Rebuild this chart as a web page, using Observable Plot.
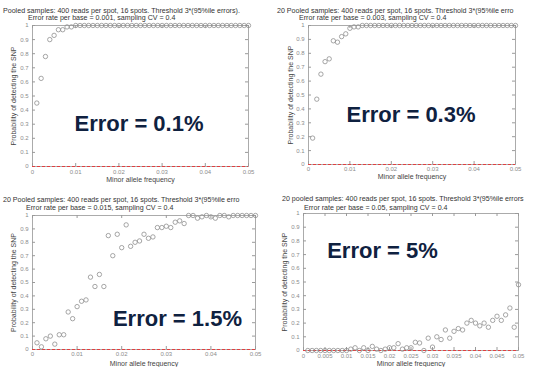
<!DOCTYPE html>
<html><head><meta charset="utf-8">
<script src="https://cdn.jsdelivr.net/npm/d3@7"></script>
<script src="https://cdn.jsdelivr.net/npm/@observablehq/plot@0.6"></script>
<style>
html,body{margin:0;padding:0;background:#fff;}
#chart{position:relative;width:534px;height:367px;overflow:hidden;background:#fff;font-family:Arial,"Liberation Sans",sans-serif;}
.panel{position:absolute;}
.t{position:absolute;white-space:nowrap;font-size:7.1px;line-height:1;color:#333;}
</style></head><body><div id="chart"></div>
<script>
// ---- data ----
const maf = [0.001,0.002,0.003,0.004,0.005,0.006,0.007,0.008,0.009,0.010,
             0.011,0.012,0.013,0.014,0.015,0.016,0.017,0.018,0.019,0.020,
             0.021,0.022,0.023,0.024,0.025,0.026,0.027,0.028,0.029,0.030,
             0.031,0.032,0.033,0.034,0.035,0.036,0.037,0.038,0.039,0.040,
             0.041,0.042,0.043,0.044,0.045,0.046,0.047,0.048,0.049,0.050];
const pErr01 = [0.45,0.625,0.78,0.90,0.93,0.97,0.97,0.99,0.99,1,
                1,1,1,1,1,1,1,1,1,1, 1,1,1,1,1,1,1,1,1,1,
                1,1,1,1,1,1,1,1,1,1, 1,1,1,1,1,1,1,1,1,1];
const pErr03 = [0.19,0.47,0.65,0.74,0.76,0.89,0.88,0.92,0.94,0.98,
                0.99,0.99,1,1,1,1,1,1,1,1, 1,1,1,1,1,1,1,1,1,1,
                1,1,1,1,1,1,1,1,1,1, 1,1,1,1,1,1,1,1,1,1];
const pErr15 = [0.05,0.02,0.08,0.10,0.04,0.11,0.11,0.28,0.23,0.32,
                0.36,0.37,0.54,0.47,0.56,0.47,0.85,0.70,0.86,0.76,
                0.93,0.77,0.80,0.81,0.86,0.83,0.84,0.91,0.91,0.92,
                0.91,0.95,0.96,0.94,1,1,0.98,0.99,1,0.99,
                0.98,1,1,0.99,1,1,1,1,1,1];
const pErr5  = [0,0,0,0,0,0,0,0,0,0,
                0.01,0.02,0,0.02,0,0.03,0.01,0,0.01,0.02,
                0.02,0.05,0.01,0.02,0.02,0.06,0.055,0,0.09,0.025,
                0.10,0.08,0.15,0.09,0.14,0.16,0.15,0.20,0.22,0.20,
                0.18,0.20,0.17,0.22,0.25,0.22,0.26,0.31,0.17,0.48];
const falseDetect = [0];
const yTicks = [0,0.1,0.2,0.3,0.4,0.5,0.6,0.7,0.8,0.9,1];
const yTickLabels = ["0","0.1","0.2","0.3","0.4","0.5","0.6","0.7","0.8","0.9","1"];
const xTicksA = [0,0.01,0.02,0.03,0.04,0.05];
const xTickLabelsA = ["0","0.01","0.02","0.03","0.04","0.05"];
const xTicksB = [0,0.005,0.01,0.015,0.02,0.025,0.03,0.035,0.04,0.045,0.05];
const xTickLabelsB = ["0","0.005","0.01","0.015","0.02","0.025","0.03","0.035","0.04","0.045","0.05"];
const bigLabels = ["Error = 0.1%","Error = 0.3%","Error = 1.5%","Error = 5%"];
const titles1 = ["Pooled samples: 400 reads per spot, 16 spots. Threshold 3*(95%ile errors).",
                 "20 Pooled samples: 400 reads per spot, 16 spots. Threshold 3*(95%ile erro",
                 "20 Pooled samples: 400 reads per spot, 16 spots. Threshold 3*(95%ile erro",
                 "20 pooled samples: 400 reads per spot, 16 spots. Threshold 3*(95%ile errors"];
const titles2 = ["Error rate per base = 0.001, sampling CV = 0.4",
                 "Error rate per base = 0.003, sampling CV = 0.4",
                 "Error rate per base = 0.015, sampling CV = 0.4",
                 "Error rate per base = 0.05, sampling CV = 0.4"];
const yLabel = "Probability of detecting the SNP";
const xLabel = "Minor allele frequency";

// ---- layout ----
const layout = [
  {left:0,   top:0,   w:267, h:183, ml:32, mr:19, mt:25, mb:17, lx:0.02465, ly:0.305, xt:"A", tp:3, xly:13, yld:-19,
   t1:[3,8], t2:[28,15.3]},
  {left:267, top:0,   w:267, h:183, ml:41, mr:19, mt:25, mb:19, lx:0.02476, ly:0.36,  xt:"A", tp:2, xly:12, yld:-18,
   t1:[277,8.3], t2:[299,15.3]},
  {left:0,   top:183, w:267, h:184, ml:32, mr:12, mt:32, mb:18, lx:0.0325,  ly:0.231, xt:"A", tp:2, xly:14, yld:-19,
   t1:[3,197], t2:[26,204.5]},
  {left:267, top:183, w:267, h:184, ml:36, mr:16, mt:30, mb:17, lx:0.01837, ly:0.73,  xt:"B", tp:3, xly:13, yld:-19,
   t1:[282,196], t2:[304,204.5]}
];
const series = [pErr01, pErr03, pErr15, pErr5];
const chart = document.getElementById("chart");
const font = "Arial, 'Liberation Sans', sans-serif";

layout.forEach((c, k) => {
  const pw = c.w - c.ml - c.mr, ph = c.h - c.mt - c.mb;
  const xt = c.xt === "A" ? xTicksA : xTicksB;
  const xtl = c.xt === "A" ? xTickLabelsA : xTickLabelsB;
  const xMap = new Map(xt.map((d,i)=>[d, xtl[i]]));
  const yMap = new Map(yTicks.map((d,i)=>[d, yTickLabels[i]]));
  const data = maf.map((m,i)=>({m, p: series[k][i]}));
  const tickStroke = "#9a9a9a";
  const svg = Plot.plot({
    width: c.w, height: c.h,
    marginLeft: c.ml, marginRight: c.mr, marginTop: c.mt, marginBottom: c.mb,
    x: {domain:[0,0.05]}, y: {domain:[0,1]},
    style: {fontFamily: font, background: "transparent", overflow: "visible"},
    marks: [
      Plot.frame({stroke: "#ababab"}),
      Plot.tickY(yTicks, {y: d=>d, insetRight: pw-3, stroke: tickStroke}),
      Plot.tickY(yTicks, {y: d=>d, insetLeft: pw-3, stroke: tickStroke}),
      Plot.tickX(xt, {x: d=>d, insetTop: ph-3, stroke: tickStroke}),
      Plot.tickX(xt, {x: d=>d, insetBottom: ph-3, stroke: tickStroke}),
      Plot.axisY(yTicks, {tickSize: 0, tickPadding: 4, tickFormat: d=>yMap.get(d), fontSize: 6, color: "#8c8c8c", label: null}),
      Plot.axisX(xt, {tickSize: 0, tickPadding: c.tp, tickFormat: d=>xMap.get(d), fontSize: 6, color: "#8c8c8c", label: null}),
      Plot.text([yLabel], {text: d=>d, frameAnchor: "left", textAnchor: "middle", lineAnchor: "middle", rotate: -90, dx: c.yld, fontSize: 7, fill: "#444"}),
      Plot.text([xLabel], {text: d=>d, frameAnchor: "bottom", lineAnchor: "middle", dy: c.xly, fontSize: 7, fill: "#444"}),
      Plot.ruleY(falseDetect, {y: d=>d, stroke: "#e04040", strokeDasharray: "3,2", strokeWidth: 1.2}),
      Plot.dot(data, {x: "m", y: "p", r: 2.2, stroke: "#8f8f8f", strokeWidth: 0.8, fill: "none"}),
      Plot.text([bigLabels[k]], {text: d=>d, x: ()=>c.lx, y: ()=>c.ly, fontSize: 22, fontWeight: "bold", fill: "#0f2140"})
    ]
  });
  svg.classList.add("panel");
  svg.style.left = c.left + "px";
  svg.style.top = c.top + "px";
  chart.appendChild(svg);
  [[titles1[k], c.t1],[titles2[k], c.t2]].forEach(([txt,pos])=>{
    const s = document.createElement("div");
    s.className = "t";
    s.textContent = txt;
    s.style.left = pos[0] + "px";
    s.style.top = pos[1] + "px";
    chart.appendChild(s);
  });
});
</script></body></html>
